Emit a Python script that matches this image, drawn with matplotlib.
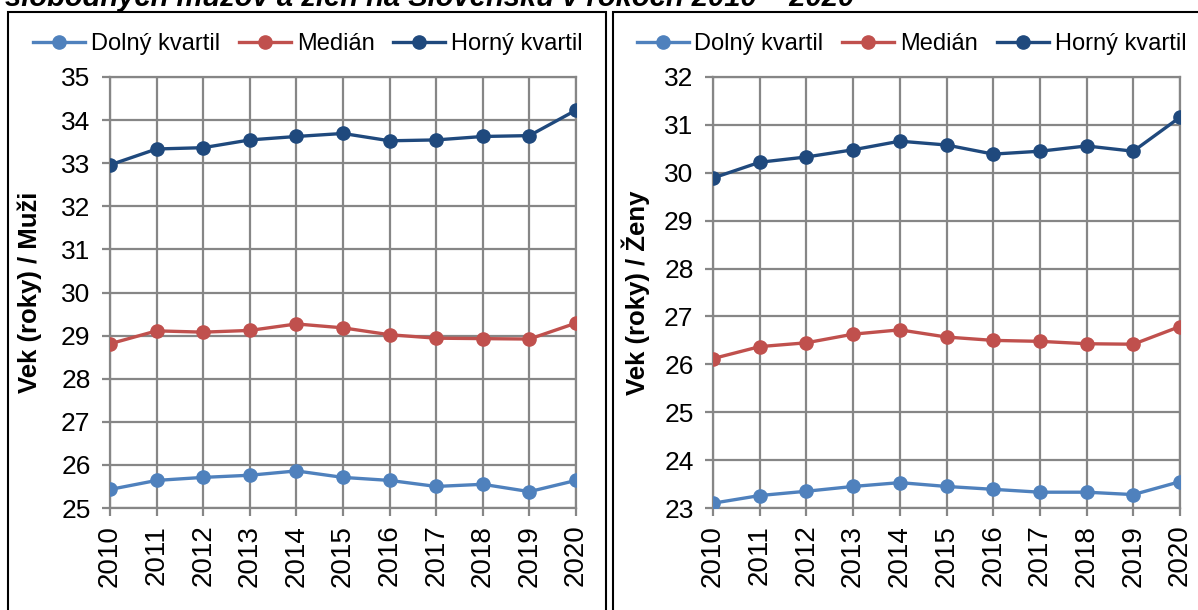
import numpy as np
import matplotlib
matplotlib.use('Agg')
import matplotlib.pyplot as plt
from matplotlib.patches import Rectangle

plt.rcParams['font.family'] = ['Liberation Sans', 'DejaVu Sans']

years = [2010, 2011, 2012, 2013, 2014, 2015, 2016, 2017, 2018, 2019, 2020]
series_names = ['Dolný kvartil', 'Medián', 'Horný kvartil']
colors = ['#4F81BD', '#C0504D', '#1F497D']

# muzi
men_low = [25.43, 25.64, 25.71, 25.76, 25.86, 25.71, 25.64, 25.50, 25.55, 25.38, 25.64]
men_med = [28.81, 29.11, 29.08, 29.12, 29.27, 29.18, 29.02, 28.94, 28.93, 28.92, 29.29]
men_up = [32.96, 33.33, 33.36, 33.54, 33.62, 33.69, 33.52, 33.54, 33.62, 33.64, 34.23]

# zeny
women_low = [23.10, 23.26, 23.35, 23.45, 23.53, 23.45, 23.39, 23.33, 23.33, 23.28, 23.55]
women_med = [26.12, 26.37, 26.45, 26.63, 26.72, 26.57, 26.50, 26.48, 26.43, 26.42, 26.79]
women_up = [29.89, 30.22, 30.33, 30.48, 30.66, 30.58, 30.39, 30.45, 30.56, 30.45, 31.16]

title = 'slobodných mužov a žien na Slovensku v rokoch 2010 – 2020'

W, H = 1198, 610
fig = plt.figure(figsize=(W / 100, H / 100), dpi=100)
grid_c = '#868686'


def px(x0, y0, x1, y1):
    return [x0 / W, 1 - y1 / H, (x1 - x0) / W, (y1 - y0) / H]


def panel(rect, data, ylim, ylabel, lab_x, leg_x):
    ax = fig.add_axes(rect)
    for vals, name, c in zip(data, series_names, colors):
        ax.plot(years, vals, color=c, lw=2.4, marker='o', ms=9.5, label=name, zorder=3)
    ax.set_xlim(years[0], years[-1])
    ax.set_ylim(*ylim)
    ax.set_xticks(years)
    ax.set_xticklabels([str(y) for y in years], rotation=90, fontsize=20)
    ax.set_yticks(np.arange(ylim[0], ylim[1] + 1, 1))
    ax.tick_params(axis='y', labelsize=19, length=6, width=1.6, color=grid_c, pad=8)
    ax.tick_params(axis='x', length=6, width=1.6, color=grid_c, pad=6)
    ax.grid(True, color=grid_c, lw=1.6, zorder=0)
    for s in ax.spines.values():
        s.set_color(grid_c)
        s.set_linewidth(1.6)
    ax.set_ylabel(ylabel, fontsize=18.5, fontweight='bold')
    ax.yaxis.set_label_coords(lab_x, 0.5)
    ax.legend(loc='center', bbox_to_anchor=(leg_x, 1.0 + 33 / 431), ncol=3, frameon=False,
              fontsize=17, handlelength=2.2, handletextpad=0.25, columnspacing=0.8,
              borderaxespad=0)
    return ax


panel(px(110, 77, 576, 508), [men_low, men_med, men_up], (25, 35),
      'Vek (roky) / Muži', -0.146, 0.425)
panel(px(713, 77, 1180, 508), [women_low, women_med, women_up], (23, 32),
      'Vek (roky) / Ženy', -0.135, 0.425)

# ramceky okolo grafov
lw = 1.5
fig.patches.append(Rectangle((8 / W, -0.1), (606 - 8) / W, 1.1 - 12 / H,
                             transform=fig.transFigure, fill=False, ec='black', lw=lw))
fig.patches.append(Rectangle((613 / W, -0.1), (1210 - 613) / W, 1.1 - 12 / H,
                             transform=fig.transFigure, fill=False, ec='black', lw=lw))

fig.text(5 / W, 1 - 6 / H, title, fontsize=21, fontweight='bold', fontstyle='italic',
         va='baseline', ha='left')

fig.savefig('out.png', dpi=100)
